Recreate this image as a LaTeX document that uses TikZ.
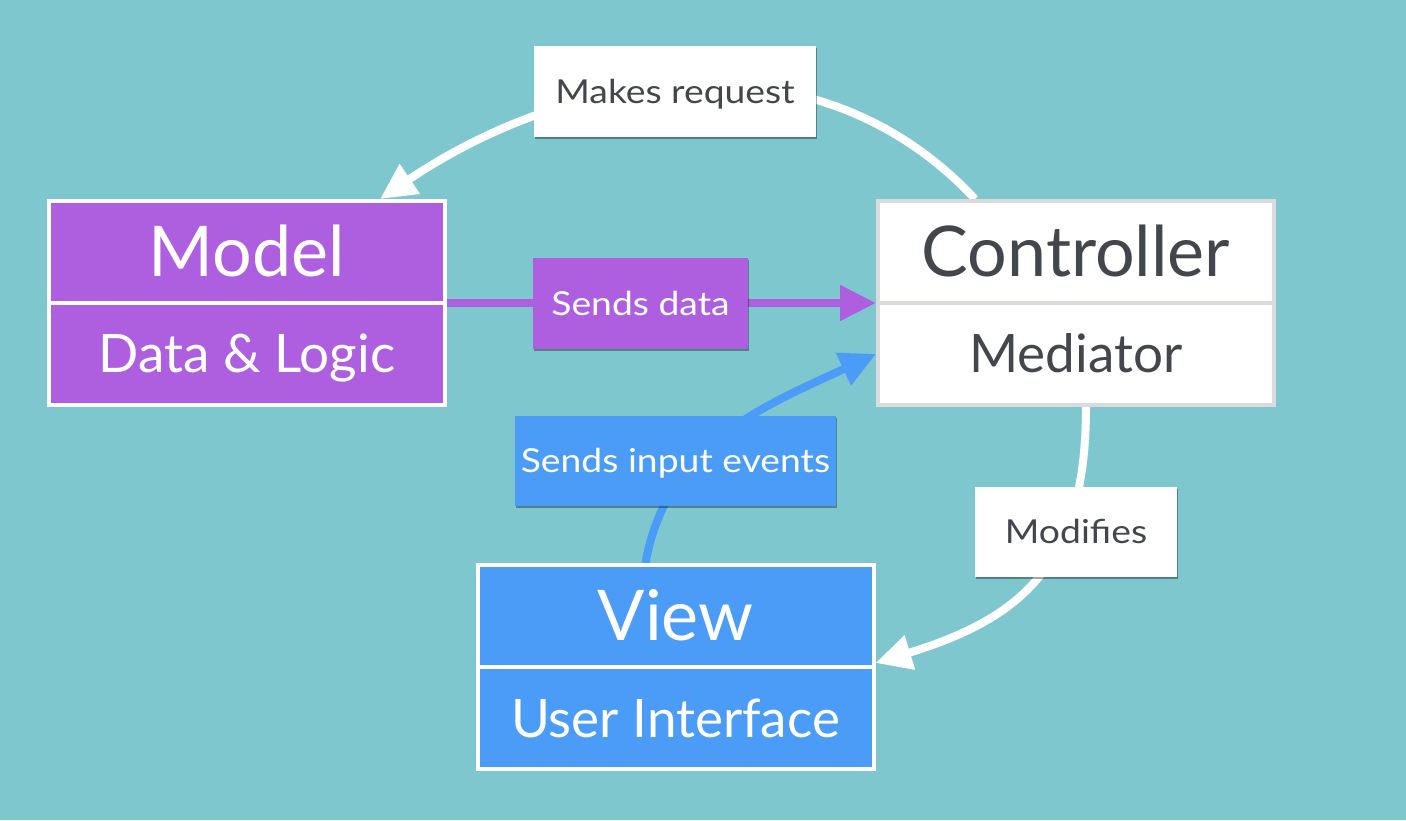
\documentclass[tikz,border=0pt]{standalone}
\usepackage{fontspec}
\setmainfont{Lato}
\newfontfamily\lblfont{Lato}[FakeStretch=1.13]
\usetikzlibrary{arrows.meta,shadows,calc}
\pgfdeclarelayer{back}
\pgfdeclarelayer{bg}
\pgfsetlayers{back,bg,main}
\definecolor{bgc}{HTML}{7EC7CE}
\definecolor{purp}{HTML}{AD5FE0}
\definecolor{blu}{HTML}{4A9CF6}
\definecolor{dtext}{HTML}{43464C}
\definecolor{cborder}{HTML}{DADADF}
\begin{document}
\begin{tikzpicture}[x=1pt,y=1pt,
 part/.style={draw,line width=4pt,minimum width=396pt,minimum height=102pt,inner sep=0pt},
 big/.style={font=\fontsize{70}{80}\selectfont,text height=50pt,text depth=0pt},
 sub/.style={font=\fontsize{53}{60}\selectfont,text height=38pt,text depth=0pt},
 lbl/.style={inner sep=0pt,font=\lblfont\fontsize{33}{38}\selectfont,text height=23.5pt,text depth=0pt,
   drop shadow={shadow xshift=1pt,shadow yshift=-2pt,opacity=0.35,fill=black}},
 conn/.style={line width=8pt},
 tip/.style={-{Triangle[length=36pt,width=34pt]}}
]
\begin{pgfonlayer}{back}
\fill[bgc] (0,0) rectangle (1406,820);
\end{pgfonlayer}
\useasboundingbox (0,0) rectangle (1406,820);

\node[part,fill=purp,draw=white,text=white,big] (modelT) at (247,568) {Model};
\node[part,fill=purp,draw=white,text=white,sub] (modelB) at (247,466) {Data \& Logic};
\node[part,fill=white,draw=cborder,text=dtext,big] (ctrlT) at (1076,568) {Controller};
\node[part,fill=white,draw=cborder,text=dtext,sub] (ctrlB) at (1076,466) {Mediator};
\node[part,fill=blu,draw=white,text=white,big] (viewT) at (675.5,204) {View};
\node[part,fill=blu,draw=white,text=white,sub] (viewB) at (675.5,102) {User Interface};

\node[lbl,fill=white,text=dtext,minimum width=282pt,minimum height=91pt] (req) at (675,728.5) {Makes request};
\node[lbl,fill=purp,text=white,minimum width=215pt,minimum height=91pt] (data) at (640.5,516.5) {Sends data};
\node[lbl,fill=blu,text=white,minimum width=321pt,minimum height=90pt] (inp) at (675.5,359) {Sends input events};
\node[lbl,fill=white,text=dtext,minimum width=202pt,minimum height=90pt] (mod) at (1076,288) {Modifies};

\begin{pgfonlayer}{bg}
\coordinate (reqS) at ($(ctrlT.north west)!0.2475!(ctrlT.north east)$);
\coordinate (reqE) at ($(modelT.north west)!0.8325!(modelT.north east)$);
\draw[conn,white,tip] (reqS) to[out=133,in=34] (reqE);
\draw[conn,purp,tip] ([yshift=2pt]modelT.south east) -- ([yshift=2pt]ctrlT.south west);
\coordinate (inS) at ($(viewT.north west)!0.425!(viewT.north east)$);
\draw[conn,blu,tip] (inS) to[out=80,in=205] (ctrlB.west);
\coordinate (modS) at ($(ctrlB.south west)!0.525!(ctrlB.south east)$);
\coordinate (modE) at ($(viewT.east)!0.887!(viewT.south east)$);
\draw[conn,white,tip] (modS) to[out=270,in=17,looseness=1.2] (modE);
\end{pgfonlayer}
\end{tikzpicture}
\end{document}
